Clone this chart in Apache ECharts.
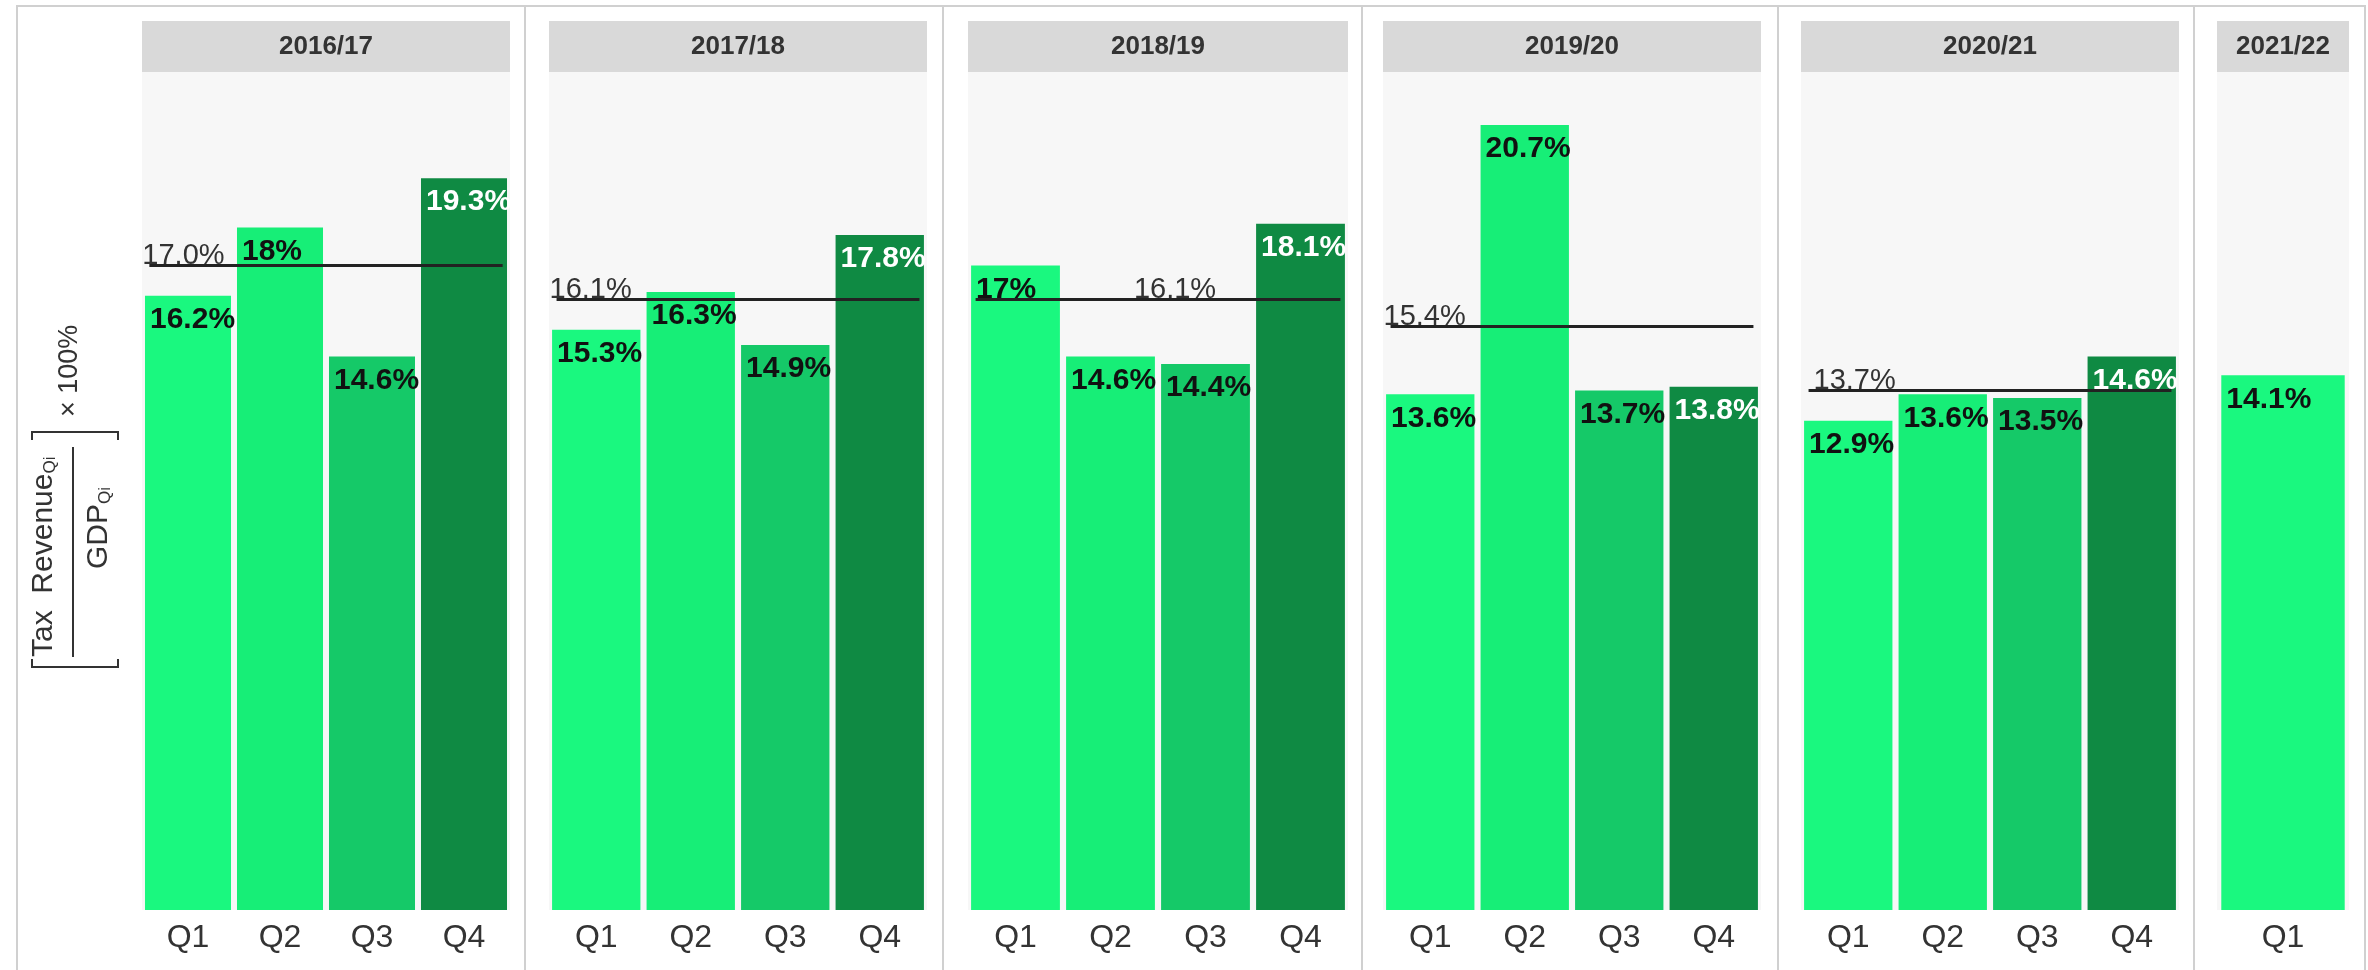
<!DOCTYPE html>
<html>
<head>
<meta charset="utf-8">
<title>Tax revenue to GDP by quarter</title>
<script src="https://cdn.jsdelivr.net/npm/echarts@6/dist/echarts.min.js"></script>
<style>
  html, body { margin: 0; padding: 0; background: #fff; }
  #chart { width: 2368px; height: 970px; }
</style>
</head>
<body>
<div id="chart"></div>
<script>
// fiscal years (one facet each) and quarters
const years = ['2016/17', '2017/18', '2018/19', '2019/20', '2020/21', '2021/22']
const quarters = ['Q1', 'Q2', 'Q3', 'Q4']

// tax revenue / GDP per quarter, %
const ratio1617 = [16.2, 18, 14.6, 19.3]
const ratio1718 = [15.3, 16.3, 14.9, 17.8]
const ratio1819 = [17, 14.6, 14.4, 18.1]
const ratio1920 = [13.6, 20.7, 13.7, 13.8]
const ratio2021 = [12.9, 13.6, 13.5, 14.6]
const ratio2122 = [14.1]
const ratios = [ratio1617, ratio1718, ratio1819, ratio1920, ratio2021, ratio2122]

// yearly average reference line, %
const yearMeans = [17.0, 16.1, 16.1, 15.4, 13.7, null]

// ---- look ----
const FONT = "'Liberation Sans', Arial, Helvetica, sans-serif"
const barColors = ['#1af87f', '#17ee77', '#15c968', '#0f8a43']
const labelColors = ['#111', '#111', '#111', '#fff']
const panelLeft = [142, 549, 968, 1383, 1801, 2217]
const panelWidth = [368, 378, 380, 378, 378, 132]
const meanLabelPos = ['insideStartTop', 'insideStartTop', 'insideMiddleTop', 'insideStartTop', 'insideStartTop', null]
const meanLabelPad = [0, 0, [0, 0, 0, 34], 0, [0, 0, 0, 12], 0]
const separatorX = [525, 943, 1362, 1778, 2194]
const PLOT_TOP = 72
const PLOT_H = 838
const Y_MAX = 22.1

const chart = echarts.init(document.getElementById('chart'))

const grid = []
const xAxis = []
const yAxis = []
const series = []
const graphic = []

years.forEach((yr, i) => {
  const vals = ratios[i]
  const n = vals.length
  grid.push({
    left: panelLeft[i], top: PLOT_TOP, width: panelWidth[i], height: PLOT_H,
    show: true, backgroundColor: '#f7f7f7', borderWidth: 0
  })
  // category axis for the bars
  xAxis.push({
    type: 'category', gridIndex: i, data: quarters.slice(0, n),
    axisLine: { show: false }, axisTick: { show: false }, splitLine: { show: false },
    axisLabel: { fontSize: 32, color: '#333', margin: 12, fontFamily: FONT }
  })
  // hidden value axis so the average line can stop short of the panel edge
  xAxis.push({ type: 'value', gridIndex: i, min: -0.5, max: n - 0.5, show: false })
  yAxis.push({ type: 'value', gridIndex: i, min: 0, max: Y_MAX, show: false, splitLine: { show: false } })

  series.push({
    type: 'bar',
    xAxisIndex: i * 2, yAxisIndex: i,
    barCategoryGap: '6.5%',
    data: vals.map((v, j) => ({
      value: v,
      itemStyle: { color: barColors[j] },
      label: { color: labelColors[j] }
    })),
    label: {
      show: true, position: 'insideTopLeft', distance: 9, offset: [-4, 0],
      formatter: '{c}%', fontSize: 30, fontWeight: 'bold', fontFamily: FONT
    },
    silent: true
  })

  if (yearMeans[i] != null) {
    const m = yearMeans[i]
    series.push({
      type: 'line',
      xAxisIndex: i * 2 + 1, yAxisIndex: i,
      data: [],
      markLine: {
        silent: true,
        symbol: ['none', 'none'],
        lineStyle: { color: '#222', width: 3, type: 'solid' },
        label: {
          show: true, position: meanLabelPos[i], distance: [-7, -5], padding: meanLabelPad[i],
          formatter: m.toFixed(1) + '%', fontSize: 29, color: '#333', fontFamily: FONT
        },
        data: [[{ coord: [-0.42, m] }, { coord: [n - 0.58, m] }]]
      }
    })
  }

  // facet header strip
  graphic.push({
    type: 'rect', shape: { x: panelLeft[i], y: 21, width: panelWidth[i], height: 51 },
    style: { fill: '#d9d9d9' }, silent: true
  })
  graphic.push({
    type: 'text', x: panelLeft[i] + panelWidth[i] / 2, y: 47,
    style: { text: yr, fontSize: 26, fontWeight: 'bold', fill: '#333', fontFamily: FONT, align: 'center', verticalAlign: 'middle' },
    silent: true
  })
})

// outer frame and facet separators
graphic.push({
  type: 'rect', shape: { x: 17, y: 6, width: 2348, height: 980 },
  style: { fill: 'none', stroke: '#d0d0d0', lineWidth: 2 }, silent: true, z: 10
})
separatorX.forEach((x) => {
  graphic.push({
    type: 'line', shape: { x1: x, y1: 6, x2: x, y2: 970 },
    style: { stroke: '#d0d0d0', lineWidth: 2 }, silent: true, z: 10
  })
})

// rotated y-axis title: [Tax Revenue_Qi / GDP_Qi] x 100%
const txt = { fontFamily: FONT, fill: '#333' }
const richParts = {
  m: { fontSize: 30, fontFamily: FONT, fill: '#333' },
  s: { fontSize: 17, fontFamily: FONT, fill: '#333', verticalAlign: 'bottom' }
}
graphic.push({
  type: 'group', x: 75, y: 550, rotation: Math.PI / 2, silent: true,
  children: [
    {
      type: 'text', x: -107, y: -31,
      style: { ...txt, text: '{m|Tax  Revenue}{s|Qi}', verticalAlign: 'middle', align: 'left', rich: richParts }
    },
    { type: 'line', shape: { x1: -107, y1: -2, x2: 103, y2: -2 }, style: { stroke: '#333', lineWidth: 2 } },
    {
      type: 'text', x: 22, y: 24,
      style: { ...txt, text: '{m|GDP}{s|Qi}', verticalAlign: 'middle', align: 'center', rich: richParts }
    },
    { type: 'polyline', shape: { points: [[-109, -43], [-117, -43], [-117, 43], [-109, 43]] }, style: { stroke: '#333', lineWidth: 2, fill: 'none' } },
    { type: 'polyline', shape: { points: [[110, -43], [118, -43], [118, 43], [110, 43]] }, style: { stroke: '#333', lineWidth: 2, fill: 'none' } },
    {
      type: 'text', x: 133, y: -5,
      style: { ...txt, text: '× 100%', fontSize: 27, verticalAlign: 'middle', align: 'left' }
    }
  ]
})

chart.setOption({
  backgroundColor: '#ffffff',
  animation: false,
  textStyle: { fontFamily: FONT },
  grid, xAxis, yAxis, series, graphic
})

window.addEventListener('resize', () => chart.resize())
</script>
</body>
</html>
